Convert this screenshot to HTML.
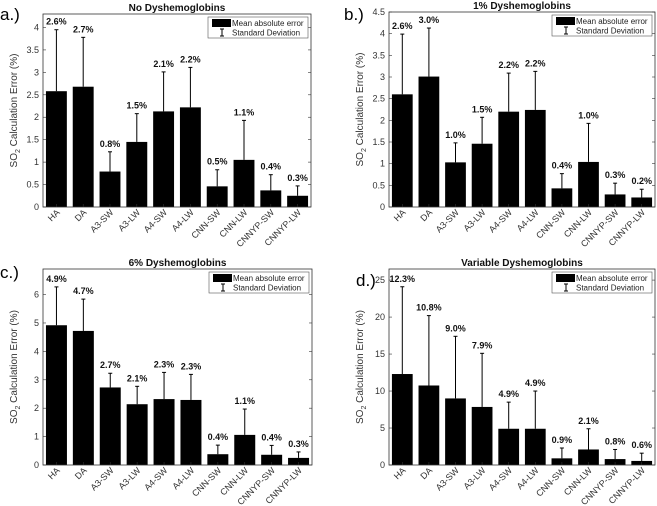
<!DOCTYPE html>
<html><head><meta charset="utf-8">
<style>
html,body{margin:0;padding:0;background:#fff;}
svg{display:block;font-family:"Liberation Sans",Arial,sans-serif;}
</style></head>
<body>
<svg id="fig" width="657" height="506" viewBox="0 0 657 506" xmlns="http://www.w3.org/2000/svg"></svg>
<script>
const categories = ["HA","DA","A3-SW","A3-LW","A4-SW","A4-LW","CNN-SW","CNN-LW","CNNYP-SW","CNNYP-LW"];
const meansA = [2.58,2.68,0.79,1.45,2.13,2.22,0.46,1.05,0.37,0.25];
const topsA  = [3.95,3.78,1.23,2.08,3.01,3.11,0.83,1.93,0.72,0.47];
const labelsA = ["2.6%","2.7%","0.8%","1.5%","2.1%","2.2%","0.5%","1.1%","0.4%","0.3%"];
const ticksA = [0,0.5,1,1.5,2,2.5,3,3.5,4];
const meansB = [2.6,3.01,1.03,1.46,2.2,2.24,0.43,1.04,0.29,0.22];
const topsB  = [3.99,4.13,1.48,2.07,3.09,3.13,0.77,1.93,0.55,0.41];
const labelsB = ["2.6%","3.0%","1.0%","1.5%","2.2%","2.2%","0.4%","1.0%","0.3%","0.2%"];
const ticksB = [0,0.5,1,1.5,2,2.5,3,3.5,4,4.5];
const meansC = [4.92,4.72,2.73,2.14,2.32,2.29,0.38,1.06,0.36,0.25];
const topsC  = [6.27,5.84,3.23,2.77,3.26,3.19,0.70,1.97,0.69,0.46];
const labelsC = ["4.9%","4.7%","2.7%","2.1%","2.3%","2.3%","0.4%","1.1%","0.4%","0.3%"];
const ticksC = [0,1,2,3,4,5,6];
const meansD = [12.3,10.75,9.0,7.85,4.9,4.9,0.9,2.1,0.8,0.55];
const topsD  = [24.1,20.2,17.4,15.1,8.5,10.0,2.3,4.9,2.1,1.6];
const labelsD = ["12.3%","10.8%","9.0%","7.9%","4.9%","4.9%","0.9%","2.1%","0.8%","0.6%"];
const ticksD = [0,5,10,15,20,25];

const NS="http://www.w3.org/2000/svg";
const svg=document.getElementById('fig');
function mk(tag,attrs,parent){const e=document.createElementNS(NS,tag);for(const k in attrs)e.setAttribute(k,attrs[k]);(parent||svg).appendChild(e);return e;}

const panels=[
 {id:"a",L:43,R:311,T:14,B:207,ymax:4.3,means:meansA,tops:topsA,labels:labelsA,ticks:ticksA,title:"No Dyshemoglobins",tag:"a.)",tagX:0,tagY:20,ylx:17},
 {id:"b",L:389,R:655,T:12,B:207,ymax:4.5,means:meansB,tops:topsB,labels:labelsB,ticks:ticksB,title:"1% Dyshemoglobins",tag:"b.)",tagX:344,tagY:20,ylx:363},
 {id:"c",L:43,R:312,T:269,B:465,ymax:6.9,means:meansC,tops:topsC,labels:labelsC,ticks:ticksC,title:"6% Dyshemoglobins",tag:"c.)",tagX:0,tagY:278,ylx:17},
 {id:"d",L:389,R:655,T:269,B:465,ymax:26.5,means:meansD,tops:topsD,labels:labelsD,ticks:ticksD,title:"Variable Dyshemoglobins",tag:"d.)",tagX:356,tagY:286,ylx:363}
];

panels.forEach(p=>{
  const g=mk('g',{});
  
  
  const y=v=>p.B-(v/p.ymax)*(p.B-p.T);
  const slot=(p.R-p.L)/categories.length;
  const x=i=>p.L+slot*(i+0.5);
  const bw=slot*0.78;
  p.ticks.forEach(t=>{
    const yy=y(t);
    const tl=mk('line',{x1:p.L,x2:p.L+3,y1:yy,y2:yy,stroke:'#333','stroke-width':0.6},g);
    
    
    mk('line',{x1:p.R,x2:p.R-3,y1:yy,y2:yy,stroke:'#333','stroke-width':0.6},g);
    const tx=mk('text',{x:p.L-4,y:yy+3,'text-anchor':'end','font-size':9,fill:'#333'},g);
    tx.textContent=String(t);
    
    
  });
  categories.forEach((c,i)=>{
    const cx=x(i);
    const bar=mk('rect',{x:cx-bw/2,y:y(p.means[i]),width:bw,height:p.B-y(p.means[i]),fill:'#000'},g);
    
    
    const eb=mk('line',{x1:cx,x2:cx,y1:y(p.means[i]),y2:y(p.tops[i]),stroke:'#000','stroke-width':1},g);
    
    
    mk('line',{x1:cx-2,x2:cx+2,y1:y(p.tops[i]),y2:y(p.tops[i]),stroke:'#000','stroke-width':1},g);
    const vl=mk('text',{x:cx,y:y(p.tops[i])-5,'text-anchor':'middle','font-size':9,'font-weight':'bold',fill:'#111'},g);
    vl.textContent=p.labels[i];
    
    
    mk('line',{x1:cx,x2:cx,y1:p.B,y2:p.B-3,stroke:'#333','stroke-width':0.6},g);
    const xl=mk('text',{x:cx+4,y:p.B+6,'text-anchor':'end','font-size':9,fill:'#333',transform:`rotate(-45 ${cx+4} ${p.B+6})`},g);
    xl.textContent=c;
    
    
  });
  const frame=mk('rect',{x:p.L,y:p.T,width:p.R-p.L,height:p.B-p.T,fill:'none',stroke:'#333','stroke-width':0.8},g);
  
  
  const ti=mk('text',{x:(p.L+p.R)/2,y:p.T-3,'text-anchor':'middle','font-size':10,'font-weight':'bold',fill:'#111'},g);
  ti.textContent=p.title;
  
  
  const tg=mk('text',{x:p.tagX,y:p.tagY,'font-size':17,fill:'#000'},g);
  tg.textContent=p.tag;
  
  
  const cy=(p.T+p.B)/2;
  const yl=mk('text',{x:p.ylx,y:cy,'text-anchor':'middle','font-size':10,fill:'#333',transform:`rotate(-90 ${p.ylx} ${cy})`},g);
  yl.innerHTML='SO<tspan font-size="7" dy="3">2</tspan><tspan dy="-3"> Calculation Error (%)</tspan>';
  
  
  const lx=p.R-103, ly=p.T+3;
  const lg=mk('g',{},g);
  
  
  mk('rect',{x:lx,y:ly,width:100,height:21,fill:'#fff',stroke:'#555','stroke-width':0.6},lg);
  mk('rect',{x:lx+4,y:ly+2,width:19,height:8,fill:'#000'},lg);
  const t1=mk('text',{x:lx+24,y:ly+9,'font-size':8,fill:'#222'},lg);
  t1.textContent='Mean absolute error';
  
  
  mk('line',{x1:lx+14,x2:lx+14,y1:ly+12,y2:ly+19,stroke:'#000','stroke-width':1},lg);
  mk('line',{x1:lx+12,x2:lx+16,y1:ly+12,y2:ly+12,stroke:'#000','stroke-width':1},lg);
  mk('line',{x1:lx+12,x2:lx+16,y1:ly+19,y2:ly+19,stroke:'#000','stroke-width':1},lg);
  const t2=mk('text',{x:lx+24,y:ly+18.5,'font-size':8,fill:'#222'},lg);
  t2.textContent='Standard Deviation';
  
  
});
</script>
</body></html>
